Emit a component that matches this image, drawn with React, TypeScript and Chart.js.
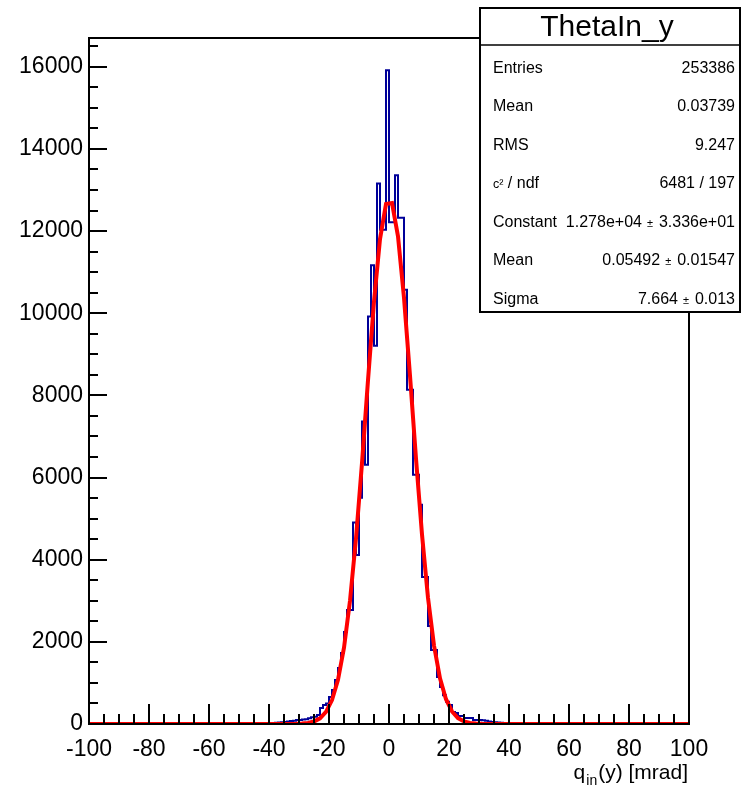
import React, { useEffect, useRef } from "react";
import { Chart, registerables } from "chart.js";

Chart.register(...registerables);

const FONT = "'Liberation Sans', Arial, Helvetica, sans-serif";

// Histogram: 200 bins of 1 mrad from -100 to 100 (bin lower edges -100 ... 99)
const X_MIN = -100;
const X_MAX = 100;
const Y_MAX = 16700;

const binCounts: number[] = [
  // -100 .. -91
  0, 0, 1, 0, 0, 0, 1, 0, 0, 0,
  // -90 .. -81
  0, 1, 0, 0, 1, 0, 0, 1, 0, 1,
  // -80 .. -71
  1, 0, 1, 1, 0, 1, 1, 2, 1, 1,
  // -70 .. -61
  2, 1, 2, 2, 1, 3, 2, 2, 3, 3,
  // -60 .. -51
  3, 4, 3, 4, 5, 4, 5, 6, 6, 7,
  // -50 .. -41
  8, 8, 9, 10, 11, 12, 13, 15, 17, 19,
  // -40 .. -31
  22, 25, 30, 35, 40, 48, 58, 70, 82, 95,
  // -30 .. -21
  100, 108, 118, 140, 165, 175, 220, 390, 460, 500,
  // -20 .. -11
  657, 830, 1072, 1364, 1730, 2241, 2777, 2777, 4904, 4117,
  // -10 .. -1
  5505, 7364, 6309, 9922, 11165, 9208, 13155, 12034, 12034, 15915,
  // 0 .. 9
  12213, 12213, 13357, 12326, 12326, 10572, 8136, 8136, 6066, 6066,
  // 10 .. 19
  5335, 3581, 3581, 2387, 1803, 1803, 1145, 900, 700, 540,
  // 20 .. 29
  463, 290, 270, 195, 195, 146, 146, 146, 97, 97,
  // 30 .. 39
  97, 90, 80, 60, 49, 45, 38, 32, 26, 22,
  // 40 .. 49
  18, 15, 13, 11, 10, 9, 8, 7, 6, 6,
  // 50 .. 59
  5, 5, 4, 4, 3, 3, 3, 2, 3, 2,
  // 60 .. 69
  2, 2, 1, 2, 1, 1, 2, 1, 1, 0,
  // 70 .. 79
  1, 1, 0, 1, 0, 1, 0, 0, 1, 0,
  // 80 .. 89
  0, 0, 1, 0, 0, 0, 1, 0, 0, 0,
  // 90 .. 99
  0, 0, 0, 1, 0, 0, 0, 0, 0, 0,
];

// Gaussian fit curve (as drawn, sampled every 2 mrad)
const fitX: number[] = [
  -100, -41, -39, -37, -35, -33, -31, -29, -27, -25, -23, -21, -19, -17, -15, -13, -11, -9, -7, -5, -3, -1,
  1, 3, 5, 7, 9, 11, 13, 15, 17, 19, 21, 23, 25, 27, 29, 31, 33, 35, 37, 39, 41, 100,
];
const fitY: number[] = [
  0, 0, 0, 0.1, 0.4, 1.2, 3.5, 9.7, 25.1, 60.8, 138, 293, 582, 1076, 1858, 2999, 4519, 6354, 8368, 10282, 11804, 12659,
  12683, 11871, 10378, 8478, 6462, 4613, 3074, 1911, 1110, 603, 305, 144, 63.7, 26.4, 10.2, 3.7, 1.2, 0.4, 0.1, 0, 0, 0,
];

const xTickValues: number[] = [-100, -80, -60, -40, -20, 0, 20, 40, 60, 80, 100];
const yTickValues: number[] = [0, 2000, 4000, 6000, 8000, 10000, 12000, 14000, 16000];
const X_MINOR = 5;
const Y_MINOR = 500;

const statTitle = "ThetaIn_y";
const statNames: string[] = ["Entries", "Mean", "RMS"];
const statValues: string[] = ["253386", "0.03739", "9.247"];
const chi2Symbol = "c²";
const chi2Label = " / ndf";
const chi2Value = "6481 / 197";
const fitNames: string[] = ["Constant", "Mean", "Sigma"];
const fitValues: string[] = ["1.278e+04", "0.05492", "7.664"];
const fitErrors: string[] = ["3.336e+01", "0.01547", "0.013"];

const axisSym = "q";
const axisSub = "in";
const axisMain = "(y) [mrad]";

const rootPlugin = {
  id: "rootStyle",
  afterDatasetsDraw(chart: any) {
    const { ctx, chartArea: a, scales } = chart;
    const x = scales.x;
    const y = scales.y;
    ctx.save();
    ctx.strokeStyle = "#000";
    ctx.lineWidth = 2;
    ctx.beginPath();
    for (let v = X_MIN; v <= X_MAX + 1e-6; v += X_MINOR) {
      const px = Math.round(x.getPixelForValue(v));
      const major = xTickValues.indexOf(v) >= 0;
      const len = major ? 20 : 10;
      ctx.moveTo(px, a.bottom);
      ctx.lineTo(px, a.bottom - len);
    }
    for (let v = 0; v <= Y_MAX + 1e-6; v += Y_MINOR) {
      const py = Math.round(y.getPixelForValue(v));
      const major = yTickValues.indexOf(v) >= 0;
      const len = major ? 18 : 9;
      ctx.moveTo(a.left, py);
      ctx.lineTo(a.left + len, py);
    }
    ctx.stroke();
    // frame
    ctx.beginPath();
    ctx.moveTo(a.left, a.top);
    ctx.lineTo(a.left, a.bottom);
    ctx.lineTo(a.right, a.bottom);
    ctx.lineTo(a.right, a.top);
    ctx.closePath();
    ctx.stroke();
    ctx.restore();
  },
  afterDraw(chart: any) {
    const { ctx } = chart;
    ctx.save();
    // stats box
    const bx = 480, by = 8, bw = 260, bh = 304;
    ctx.fillStyle = "#fff";
    ctx.fillRect(bx, by, bw, bh);
    ctx.strokeStyle = "#000";
    ctx.lineWidth = 2;
    ctx.strokeRect(bx, by, bw, bh);
    ctx.lineWidth = 1.5;
    ctx.beginPath();
    ctx.moveTo(bx, 45);
    ctx.lineTo(bx + bw, 45);
    ctx.stroke();

    ctx.fillStyle = "#000";
    ctx.textBaseline = "alphabetic";
    ctx.font = `30px ${FONT}`;
    ctx.textAlign = "center";
    ctx.fillText(statTitle, 607, 36);

    const rowFont = `16px ${FONT}`;
    const pmFont = `11px ${FONT}`;
    const left = 493;
    const right = 735;
    const rowBase = (i: number) => 72.5 + i * 38.5;

    ctx.font = rowFont;
    statNames.forEach((n, i) => {
      ctx.textAlign = "left";
      ctx.fillText(n, left, rowBase(i));
      ctx.textAlign = "right";
      ctx.fillText(statValues[i], right, rowBase(i));
    });
    // chi2 row
    ctx.textAlign = "left";
    ctx.font = `12.5px ${FONT}`;
    ctx.fillText(chi2Symbol, left, rowBase(3));
    const wc = ctx.measureText(chi2Symbol).width;
    ctx.font = rowFont;
    ctx.fillText(chi2Label, left + wc, rowBase(3));
    ctx.textAlign = "right";
    ctx.fillText(chi2Value, right, rowBase(3));

    fitNames.forEach((n, j) => {
      const i = j + 4;
      ctx.font = rowFont;
      ctx.textAlign = "left";
      ctx.fillText(n, left, rowBase(i));
      ctx.textAlign = "right";
      ctx.fillText(fitErrors[j], right, rowBase(i));
      const w2 = ctx.measureText(fitErrors[j]).width;
      const x2 = right - w2;
      ctx.fillText(fitValues[j], x2 - 17, rowBase(i));
      ctx.font = pmFont;
      ctx.textAlign = "center";
      ctx.fillText("±", x2 - 9, rowBase(i));
    });

    // x-axis title
    const big = `21px ${FONT}`;
    const small = `14px ${FONT}`;
    ctx.font = big;
    const wMain = ctx.measureText(axisMain).width;
    const wQ = ctx.measureText(axisSym).width;
    ctx.font = small;
    const wSub = ctx.measureText(axisSub).width;
    let x0 = 688 - wMain - wSub - wQ - 2;
    ctx.textAlign = "left";
    ctx.font = big;
    ctx.fillText(axisSym, x0, 779);
    x0 += wQ + 1;
    ctx.font = small;
    ctx.fillText(axisSub, x0, 785);
    x0 += wSub + 1;
    ctx.font = big;
    ctx.fillText(axisMain, x0, 779);
    ctx.restore();
  },
};

export default function App() {
  const ref = useRef<HTMLCanvasElement>(null);
  useEffect(() => {
    if (!ref.current) return;
    const nb = binCounts.length;
    const width = (X_MAX - X_MIN) / nb;
    const histPts = binCounts.map((c, i) => ({ x: X_MIN + i * width, y: c }));
    histPts.push({ x: X_MAX, y: binCounts[nb - 1] });
    const fitPts = fitX.map((v, i) => ({ x: v, y: fitY[i] }));

    const chart = new Chart(ref.current, {
      type: "line",
      data: {
        datasets: [
          {
            data: fitPts,
            borderColor: "#ff0000",
            borderWidth: 4,
            pointRadius: 0,
            tension: 0,
            fill: false,
          },
          {
            data: histPts,
            borderColor: "#000099",
            borderWidth: 2,
            pointRadius: 0,
            stepped: true,
            fill: false,
          },
        ],
      },
      options: {
        animation: false,
        responsive: false,
        devicePixelRatio: 1,
        layout: { padding: { top: 38, right: 52, left: 0, bottom: 0 } },
        plugins: { legend: { display: false }, tooltip: { enabled: false }, title: { display: false } },
        scales: {
          x: {
            type: "linear",
            min: X_MIN,
            max: X_MAX,
            grid: { display: false, drawTicks: false },
            border: { display: false },
            afterBuildTicks: (s: any) => {
              s.ticks = xTickValues.map((v) => ({ value: v }));
            },
            afterFit: (s: any) => {
              s.height = 62;
            },
            ticks: {
              autoSkip: false,
              maxRotation: 0,
              padding: 12,
              color: "#000",
              font: { family: FONT, size: 23 },
              callback: (v: any) => String(v),
            },
          },
          y: {
            type: "linear",
            min: 0,
            max: Y_MAX,
            grid: { display: false, drawTicks: false },
            border: { display: false },
            afterBuildTicks: (s: any) => {
              s.ticks = yTickValues.map((v) => ({ value: v }));
            },
            afterFit: (s: any) => {
              s.width = 89;
            },
            ticks: {
              autoSkip: false,
              padding: 6,
              color: "#000",
              font: { family: FONT, size: 23 },
              callback: (v: any) => String(v),
            },
          },
        },
      },
      plugins: [rootPlugin],
    } as any);
    return () => chart.destroy();
  }, []);
  return (
    <div style={{ position: "absolute", left: 0, top: 0, width: 741, height: 786, background: "#fff" }}>
      <canvas ref={ref} width={741} height={786} style={{ width: 741, height: 786, display: "block" }} />
    </div>
  );
}
